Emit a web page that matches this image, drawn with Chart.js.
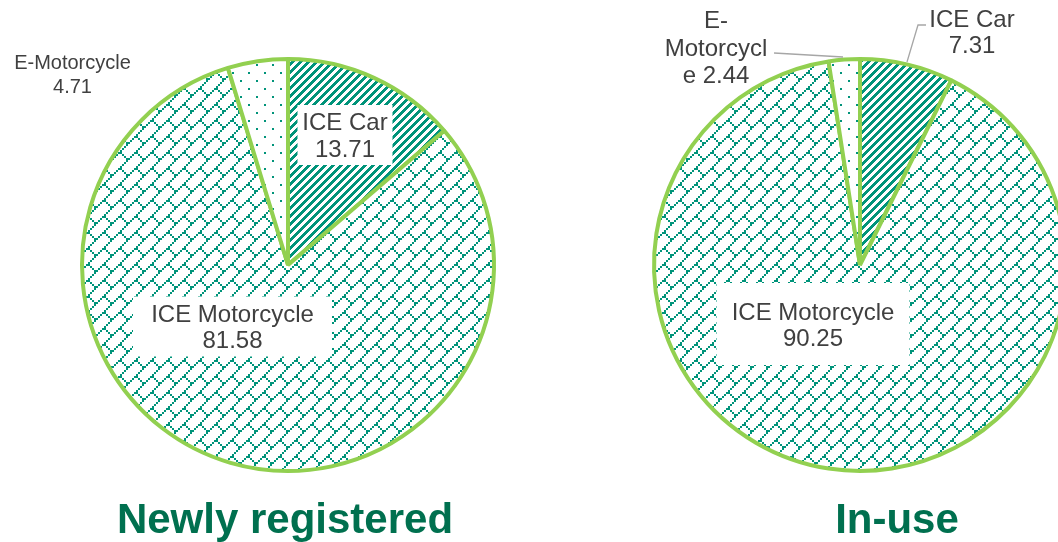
<!DOCTYPE html>
<html>
<head>
<meta charset="utf-8">
<script src="https://cdn.jsdelivr.net/npm/chart.js@4.4.1/dist/chart.umd.min.js"></script>
<style>
  html, body { margin: 0; padding: 0; background: #fff; overflow: hidden; width: 1058px; height: 542px; }
  canvas { position: absolute; left: 0; top: 0; }
</style>
</head>
<body>
<canvas id="newly" width="1058" height="542"></canvas>
<canvas id="inuse" width="1300" height="542"></canvas>
<script>
// Data
const categories  = ['ICE Car', 'ICE Motorcycle', 'E-Motorcycle'];
const newlyValues = [13.71, 81.58, 4.71];
const inUseValues = [7.31, 90.25, 2.44];
const titles      = ['Newly registered', 'In-use'];

const TEAL = '#00947A';
const FONT = '"Liberation Sans", Arial, sans-serif';

function tile(size, draw) {
  const c = document.createElement('canvas');
  c.width = c.height = size;
  const g = c.getContext('2d');
  g.fillStyle = '#fff'; g.fillRect(0, 0, size, size);
  g.fillStyle = TEAL;
  draw(g);
  return g.createPattern(c, 'repeat');
}
// Excel-like 8x8 hatch patterns, drawn at 2x
function hatch(rows) {
  return tile(16, g => rows.forEach((row, y) => {
    for (let x = 0; x < 8; x++) if (row & (0x80 >> x)) g.fillRect(x * 2, y * 2, 2, 2);
  }));
}
const stripes = tile(8, g => {
  for (let y = 0; y < 8; y++) for (let x = 0; x < 8; x++) if ((x + y) % 8 < 4) g.fillRect(x, y, 1, 1);
});
const brick = hatch([0x01, 0x02, 0x04, 0x08, 0x18, 0x24, 0x42, 0x81]);  // diagonal brick
const dots  = hatch([0x80, 0x00, 0x00, 0x00, 0x08, 0x00, 0x00, 0x00]);  // 5%
const fills = [stripes, brick, dots];

// Labels: drawn relative to the pie centre
const pieLabels = {
  id: 'pieLabels',
  afterDatasetsDraw(chart, args, opts) {
    const ctx = chart.ctx;
    const arc = chart.getDatasetMeta(0).data[0];
    const cx = arc.x, cy = arc.y;
    const values = chart.data.datasets[0].data;
    ctx.save();
    opts.labels.forEach((L, i) => {
      const cat = chart.data.labels[i], val = values[i].toFixed(2);
      let lines = [cat, val];
      if (L.breaks) {
        const s = cat + ' ' + val, b = [0, ...L.breaks, s.length];
        lines = b.slice(1).map((e, k) => s.slice(b[k], e).trim());
      }
      const x = cx + L.dx, y = cy + L.dy;
      if (L.box) {
        ctx.fillStyle = '#fff';
        ctx.fillRect(x - L.box[0] / 2, y - L.box[1] / 2, L.box[0], L.box[1]);
      }
      if (L.leader) {
        ctx.strokeStyle = '#A6A6A6'; ctx.lineWidth = 1.3;
        ctx.beginPath();
        L.leader.forEach(([px, py], k) => k ? ctx.lineTo(cx + px, cy + py) : ctx.moveTo(cx + px, cy + py));
        ctx.stroke();
      }
      ctx.font = L.size + 'px ' + FONT;
      ctx.fillStyle = '#404040';
      ctx.textAlign = 'center';
      ctx.textBaseline = 'alphabetic';
      const b0 = y - (lines.length - 1) * L.lh / 2 + 0.716 * L.size / 2;
      lines.forEach((t, k) => ctx.fillText(t, x, b0 + k * L.lh));
    });
    ctx.font = 'bold 42px ' + FONT;
    ctx.fillStyle = '#00704F';
    ctx.textAlign = 'center';
    ctx.fillText(opts.title, cx + opts.titleDx, opts.titleY);
    ctx.restore();
  }
};

function makePie(id, values, padding, labels, title, titleDx) {
  return new Chart(document.getElementById(id), {
    type: 'pie',
    data: {
      labels: categories,
      datasets: [{ data: values, backgroundColor: fills, borderColor: '#92D050', borderWidth: 4 }]
    },
    options: {
      responsive: false,
      animation: false,
      radius: 206,
      layout: { padding },
      plugins: {
        legend: { display: false },
        tooltip: { enabled: false },
        pieLabels: { labels, title, titleDx, titleY: 533 }
      }
    },
    plugins: [pieLabels]
  });
}

makePie('newly', newlyValues, { left: 0, right: 482, top: 0, bottom: 12 }, [
  { dx: 57,     dy: -130,   size: 24, lh: 27, box: [95, 60] },
  { dx: -55.5,  dy: 61.5,   size: 24, lh: 26, box: [199, 60] },
  { dx: -215.5, dy: -191.5, size: 20, lh: 24 }
], titles[0], -3);

makePie('inuse', inUseValues, { left: 420, right: 0, top: 0, bottom: 12 }, [
  { dx: 112, dy: -233.5, size: 24, lh: 26, leader: [[66, -240], [58, -240], [47, -203]] },
  { dx: -47, dy: 59,     size: 24, lh: 26, box: [193, 82] },
  { dx: -144, dy: -218,  size: 24, lh: 27.5, breaks: [2, 11], leader: [[-86, -212], [-17, -208]] }
], titles[1], 37);
</script>
</body>
</html>
